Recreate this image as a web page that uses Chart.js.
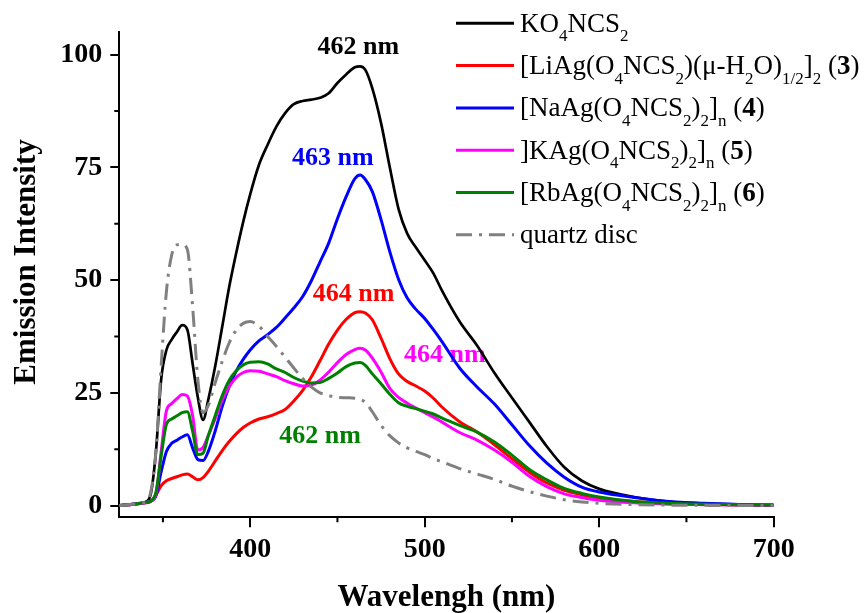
<!DOCTYPE html>
<html>
<head>
<meta charset="utf-8">
<title>Emission spectra</title>
<script src="https://cdn.jsdelivr.net/npm/chart.js@4.4.1/dist/chart.umd.min.js"></script>
<style>
  html, body { margin: 0; padding: 0; background: #fff; }
  #wrap { width: 865px; height: 613px; }
</style>
</head>
<body>
<div id="wrap"><canvas id="spectra" width="865" height="613"></canvas></div>
<script>
// emission spectra, excitation on the quartz disc, intensities normalised to ~100
const wavelength = [325, 330, 335, 340, 343, 346, 349, 352, 355, 358, 361, 364, 367, 370, 373, 376, 380, 384, 388, 392,
  396, 400, 405, 410, 415, 420, 425, 430, 435, 440, 445, 450, 455, 460, 463, 466, 470, 475, 480, 485,
  490, 495, 500, 505, 510, 520, 530, 540, 550, 560, 570, 580, 590, 600, 620, 640, 660, 680, 700];

const ko4ncs2 = [0, 0.2, 0.4, 0.8, 2.5, 12, 28, 34.5, 36.8, 38.5, 40.0, 39.0, 31.5, 24, 19.0, 23.5, 31, 39.7, 48.5, 56,
  62.9, 69, 75.5, 80, 84, 87, 89, 89.7, 90, 90.4, 91.4, 93.7, 95.6, 97.2, 97.4, 96.6, 92.5, 84.8, 75, 65.8,
  60.3, 57.2, 54.4, 51.5, 47.6, 40.8, 35.5, 29.4, 23.9, 18.5, 13.1, 8.5, 5.5, 3.7, 1.9, 0.9, 0.45, 0.2, 0.05];

const liAg = [0, 0.2, 0.35, 0.6, 0.9, 2.3, 4.4, 5.5, 6.0, 6.4, 6.8, 7.0, 6.4, 5.7, 6.2, 7.6, 9.9, 12.2, 14.2, 15.9,
  17.3, 18.3, 19.2, 19.7, 20.4, 21.3, 23.2, 25.5, 28.5, 32.1, 35.8, 38.9, 41.3, 42.8, 43.0, 42.7, 41.2, 37.1, 32.6, 29.2,
  27.5, 26.5, 25.4, 23.8, 21.8, 18.6, 16.3, 13.5, 10.4, 7.4, 5.0, 3.4, 2.4, 1.6, 0.9, 0.5, 0.3, 0.15, 0.05];

const naAg = [0, 0.2, 0.4, 0.7, 1.0, 2.2, 7.5, 12, 13.8, 14.5, 15.2, 15.7, 12.8, 10.2, 10.0, 12.0, 16.6, 22.0, 26.4, 29.8,
  32.4, 34.5, 36.5, 37.9, 39.5, 41.6, 43.8, 46.3, 49.8, 54.0, 58.2, 63.6, 68.5, 72.5, 73.3, 72.3, 69.6, 63.4, 56.3, 50.2,
  46.0, 43.5, 41.5, 39.0, 36.3, 30.5, 26.3, 22.5, 17.9, 13.3, 9.4, 6.3, 4.1, 3.0, 1.8, 0.9, 0.5, 0.25, 0.1];

const kAg = [0, 0.2, 0.4, 0.7, 1.0, 2.5, 12, 21.0, 22.6, 23.7, 24.6, 24.3, 20.0, 12.3, 12.9, 15.5, 19.3, 23.4, 26.4, 28.4,
  29.5, 29.9, 29.8, 29.2, 28.6, 27.7, 27.0, 26.5, 26.7, 27.8, 29.6, 31.7, 33.5, 34.6, 34.9, 34.5, 32.7, 29.6, 26.0, 24.0,
  22.7, 21.6, 20.6, 19.6, 18.5, 16.2, 14.5, 12.3, 9.6, 6.5, 4.2, 2.6, 1.8, 1.2, 0.6, 0.3, 0.2, 0.1, 0.05];

const rbAg = [0, 0.2, 0.4, 0.7, 1.0, 3.0, 11, 18.0, 19.2, 19.9, 20.6, 20.8, 16.5, 11.3, 11.6, 15.5, 20.0, 24.4, 27.8, 29.9,
  31.2, 31.8, 31.9, 31.4, 30.3, 29.5, 28.4, 27.6, 27.2, 27.3, 28.2, 29.4, 30.8, 31.6, 31.7, 31.1, 29.2, 27.0, 24.7, 22.8,
  22.0, 21.5, 20.9, 20.3, 19.4, 17.8, 16.3, 14.1, 11.2, 8.0, 5.7, 3.8, 2.7, 1.9, 0.9, 0.5, 0.3, 0.2, 0.1];

const quartz = [0, 0.2, 0.4, 0.8, 3.0, 12, 31, 47.5, 55.5, 57.8, 57.9, 56.8, 44.2, 28, 20.6, 22.2, 27.3, 32.0, 36.1, 38.9,
  40.4, 40.8, 39.8, 37.5, 35.3, 32.9, 30.5, 28.2, 26.3, 25.0, 24.4, 24.0, 23.9, 23.8, 23.5, 22.9, 20.8, 17.8, 15.5, 13.9,
  12.8, 12.0, 11.3, 10.4, 9.7, 8.2, 7.0, 5.8, 4.3, 3.1, 2.1, 1.3, 0.8, 0.5, 0.2, 0.1, 0.05, 0.02, 0];

const xTicks = [400, 500, 600, 700];
const xMinorTicks = [350, 450, 550, 650];
const yTicks = [0, 25, 50, 75, 100];
const yMinorTicks = [12.5, 37.5, 62.5, 87.5];

// peak maxima written next to the curves (wavelength, intensity of the text baseline)
const peakText = ['462 nm', '463 nm', '464 nm', '464 nm', '462 nm'];
const peakX = [462, 447.4, 459.3, 511.6, 440];
const peakY = [100.1, 75.5, 45.4, 31.9, 13.8];
const peakColor = ['#000000', '#0000ff', '#ff0000', '#ff00ff', '#008000'];

// legend entries as runs: [text, style]  s = subscript, b = bold
const legendRuns = [
  [['KO'], ['4', 's'], ['NCS'], ['2', 's']],
  [['[LiAg(O'], ['4', 's'], ['NCS'], ['2', 's'], [')(\u03bc-H'], ['2', 's'], ['O)'], ['1/2', 's'], [']'], ['2', 's'], [' ('], ['3', 'b'], [')']],
  [['[NaAg(O'], ['4', 's'], ['NCS'], ['2', 's'], [')'], ['2', 's'], [']'], ['n', 's'], [' ('], ['4', 'b'], [')']],
  [[']KAg(O'], ['4', 's'], ['NCS'], ['2', 's'], [')'], ['2', 's'], [']'], ['n', 's'], [' ('], ['5', 'b'], [')']],
  [['[RbAg(O'], ['4', 's'], ['NCS'], ['2', 's'], [')'], ['2', 's'], [']'], ['n', 's'], [' ('], ['6', 'b'], [')']],
  [['quartz disc']]
];

const serif = '"Liberation Serif", "Times New Roman", serif';
const dashDot = [16, 7, 3, 7];

const toPoints = ys => wavelength.map((x, i) => ({ x: x, y: ys[i] }));

const series = [
  { data: ko4ncs2, color: '#000000', width: 2.7, order: 5 },
  { data: liAg, color: '#ff0000', width: 3, order: 4 },
  { data: naAg, color: '#0000ff', width: 3, order: 3 },
  { data: kAg, color: '#ff00ff', width: 3, order: 2 },
  { data: rbAg, color: '#008000', width: 3, order: 1 },
  { data: quartz, color: '#808080', width: 3, order: 0, dash: dashDot }
];

function drawRuns(ctx, runs, x, y) {
  runs.forEach(r => {
    const style = r[1] || '';
    let dy = 0;
    if (style === 's') { ctx.font = '17px ' + serif; dy = 9.5; }
    else if (style === 'b') ctx.font = 'bold 27px ' + serif;
    else ctx.font = '27px ' + serif;
    ctx.fillText(r[0], x, y + dy);
    x += ctx.measureText(r[0]).width;
  });
}

const extras = {
  id: 'extras',
  beforeDatasetsDraw(chart) {
    const ctx = chart.ctx, xs = chart.scales.x, ys = chart.scales.y;
    ctx.save();
    ctx.font = 'bold 26px ' + serif;
    ctx.textAlign = 'center';
    ctx.textBaseline = 'alphabetic';
    peakText.forEach((t, i) => {
      ctx.fillStyle = peakColor[i];
      ctx.fillText(t, xs.getPixelForValue(peakX[i]), ys.getPixelForValue(peakY[i]));
    });
    ctx.restore();
  },
  afterDraw(chart) {
    const ctx = chart.ctx, xs = chart.scales.x, ys = chart.scales.y, area = chart.chartArea;
    ctx.save();
    // minor ticks
    ctx.strokeStyle = '#000';
    ctx.lineWidth = 2;
    ctx.beginPath();
    xMinorTicks.forEach(v => {
      const px = xs.getPixelForValue(v);
      ctx.moveTo(px, area.bottom);
      ctx.lineTo(px, area.bottom + 5);
    });
    yMinorTicks.forEach(v => {
      const py = ys.getPixelForValue(v);
      ctx.moveTo(area.left - 5, py);
      ctx.lineTo(area.left, py);
    });
    ctx.stroke();

    // axis titles
    ctx.fillStyle = '#000';
    ctx.font = 'bold 31px ' + serif;
    ctx.textAlign = 'center';
    ctx.textBaseline = 'alphabetic';
    ctx.fillText('Wavelengh (nm)', (area.left + area.right) / 2, 606);
    ctx.save();
    ctx.translate(34.5, 262);
    ctx.rotate(-Math.PI / 2);
    ctx.fillText('Emission Intensity', 0, 0);
    ctx.restore();

    // legend
    ctx.textAlign = 'left';
    legendRuns.forEach((runs, i) => {
      const ds = chart.data.datasets[i];
      const y = 23.3 + 42.3 * i;
      ctx.strokeStyle = ds.borderColor;
      ctx.lineWidth = 3;
      ctx.setLineDash(ds.borderDash || []);
      ctx.beginPath();
      ctx.moveTo(456, y);
      ctx.lineTo(514, y);
      ctx.stroke();
      ctx.setLineDash([]);
      ctx.fillStyle = '#000';
      drawRuns(ctx, runs, 520, y + 8.5);
    });
    ctx.restore();
  }
};

new Chart(document.getElementById('spectra'), {
  type: 'line',
  data: {
    datasets: series.map(s => ({
      data: toPoints(s.data),
      borderColor: s.color,
      backgroundColor: s.color,
      borderWidth: s.width,
      borderDash: s.dash || [],
      order: s.order,
      fill: false
    }))
  },
  options: {
    responsive: false,
    animation: false,
    devicePixelRatio: 1,
    layout: { padding: { top: 32, right: 91.3, left: 0, bottom: 0 } },
    plugins: { legend: { display: false }, tooltip: { enabled: false } },
    elements: {
      point: { radius: 0 },
      line: { cubicInterpolationMode: 'monotone', borderCapStyle: 'butt' }
    },
    scales: {
      x: {
        type: 'linear',
        min: 325,
        max: 700,
        afterBuildTicks: s => { s.ticks = xTicks.map(v => ({ value: v })); },
        afterFit: s => { s.height = 95.7; },
        grid: { drawOnChartArea: false, drawTicks: true, tickLength: 10, lineWidth: 2, color: '#000' },
        border: { color: '#000', width: 2 },
        ticks: { color: '#000', padding: 6, maxRotation: 0, font: { family: serif, size: 28, weight: 'bold' } }
      },
      y: {
        type: 'linear',
        min: -2.6,
        max: 105,
        afterBuildTicks: s => { s.ticks = yTicks.map(v => ({ value: v })); },
        afterFit: s => { s.width = 119.3; },
        grid: { drawOnChartArea: false, drawTicks: true, tickLength: 9, lineWidth: 2, color: '#000' },
        border: { color: '#000', width: 2 },
        ticks: { color: '#000', padding: 8, font: { family: serif, size: 28, weight: 'bold' } }
      }
    }
  },
  plugins: [extras]
});
</script>
</body>
</html>
